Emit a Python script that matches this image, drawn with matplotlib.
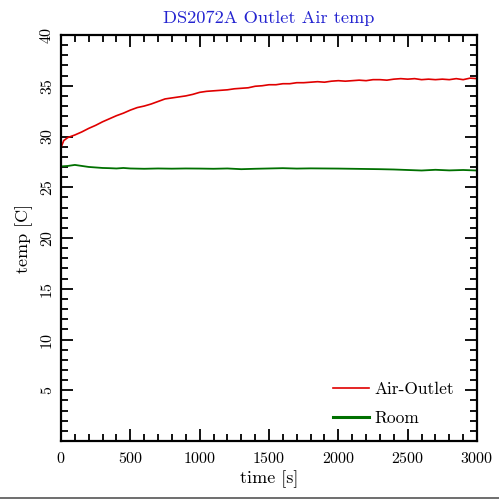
import numpy as np
import matplotlib
matplotlib.use("Agg")
from matplotlib import pyplot as plt
from matplotlib.ticker import MultipleLocator, FuncFormatter

plt.rcParams['font.family'] = ['cmr10', 'DejaVu Serif']
plt.rcParams['axes.formatter.use_mathtext'] = True

# time axis [s]
timeRed = [0, 20, 50, 100, 150, 200, 250, 300, 350, 400, 450, 500, 550, 600, 650, 700,
           750, 800, 850, 900, 950, 1000, 1050, 1100, 1150, 1200, 1250, 1300, 1350, 1400,
           1450, 1500, 1550, 1600, 1650, 1700, 1750, 1800, 1850, 1900, 1950, 2000, 2050,
           2100, 2150, 2200, 2250, 2300, 2350, 2400, 2450, 2500, 2550, 2600, 2650, 2700,
           2750, 2800, 2850, 2900, 2950, 3000]
airOutlet = [28.9, 29.6, 29.9, 30.15, 30.45, 30.8, 31.1, 31.45, 31.75, 32.05, 32.3, 32.6,
             32.85, 33.0, 33.2, 33.45, 33.7, 33.8, 33.9, 34.0, 34.15, 34.35, 34.45, 34.5,
             34.55, 34.6, 34.7, 34.75, 34.8, 34.95, 35.0, 35.1, 35.1, 35.2, 35.2, 35.3,
             35.3, 35.35, 35.4, 35.35, 35.45, 35.5, 35.45, 35.5, 35.55, 35.5, 35.6, 35.6,
             35.55, 35.65, 35.7, 35.65, 35.7, 35.6, 35.65, 35.6, 35.65, 35.6, 35.7, 35.6,
             35.75, 35.7]

timeRoom = [0, 50, 100, 150, 200, 250, 300, 350, 400, 450, 500, 600, 700, 800, 900, 1000,
            1100, 1200, 1300, 1400, 1500, 1600, 1700, 1800, 1900, 2000, 2100, 2200, 2300,
            2400, 2500, 2600, 2700, 2800, 2900, 3000]
room = [27.05, 27.1, 27.2, 27.1, 27.0, 26.95, 26.9, 26.88, 26.85, 26.9, 26.85, 26.82,
        26.85, 26.83, 26.85, 26.84, 26.82, 26.85, 26.78, 26.82, 26.85, 26.88, 26.84,
        26.86, 26.85, 26.84, 26.82, 26.8, 26.78, 26.75, 26.7, 26.65, 26.72, 26.66,
        26.7, 26.65]

fig = plt.figure(figsize=(4.99, 5.0), dpi=100)
ax = fig.add_axes([0.1222, 0.118, 0.8338, 0.812])

ax.plot(timeRed, airOutlet, color="#e00000", linewidth=1.2, label="Air-Outlet")
ax.plot(timeRoom, room, color="#007000", linewidth=1.3, label="Room")

ax.set_xlim(0, 3000)
ax.set_ylim(0, 40)
ax.xaxis.set_major_locator(MultipleLocator(500))
ax.xaxis.set_minor_locator(MultipleLocator(100))
ax.yaxis.set_major_locator(MultipleLocator(5))
ax.yaxis.set_minor_locator(MultipleLocator(1))
ax.yaxis.set_major_formatter(FuncFormatter(lambda v, p: "" if v == 0 else "%d" % v))

ax.tick_params(which="both", direction="in", top=True, right=True, width=1.3, labelsize=11.5)
ax.tick_params(which="major", length=8.5)
ax.tick_params(which="minor", length=5)
ax.tick_params(axis="y", labelrotation=90, pad=5)
ax.tick_params(axis="x", pad=7)
for lbl in ax.get_yticklabels():
    lbl.set_va("center")
for spine in ax.spines.values():
    spine.set_linewidth(1.6)

ax.set_xlabel("time [s]", fontsize=13, labelpad=3)
ax.set_ylabel("temp [C]", fontsize=13, labelpad=5)
ax.set_title("DS2072A Outlet Air temp", color="#2323d0", fontsize=13.2, pad=9)

leg = ax.legend(loc="lower right", bbox_to_anchor=(0.962, 0.02), frameon=False,
                fontsize=12.5, handlelength=2.1, handletextpad=0.3, labelspacing=0.8,
                borderaxespad=0)
leg.get_lines()[1].set_linewidth(2.2)

# grey border line at the bottom of the image
fig.add_artist(plt.Line2D([0, 1], [0.004, 0.004], color="#555555", linewidth=1.2))

plt.savefig("out.png", dpi=100)
plt.close()
